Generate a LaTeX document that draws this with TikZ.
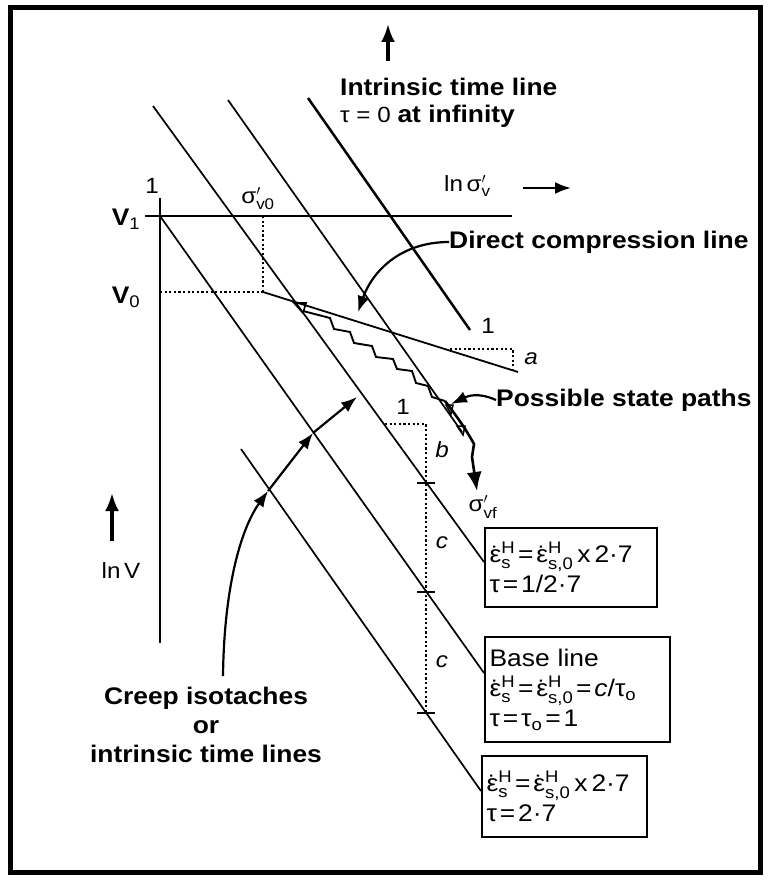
\documentclass[tikz,border=0pt]{standalone}
\usepackage{fontspec}
\usepackage{amsmath}
\setmainfont{Liberation Sans}[FakeStretch=1.1]
\usetikzlibrary{arrows.meta,calc}
\newcommand\edot{\ooalign{ε\cr\hidewidth\raisebox{-0.05em}{˙}\hidewidth\cr}}
\newcommand\hsub[1]{$^{\text{H}}_{\text{#1}}$}
\newcommand\eqs{\hspace{0.12em}=\hspace{0.12em}}
\begin{document}
\begin{tikzpicture}[x=1pt,y=-1pt,
  isoline/.style={line width=1.7pt},
  heavy/.style={line width=2.5pt},
  dotline/.style={line width=2.2pt, dash pattern=on 2.2pt off 2.4pt},
  tickmark/.style={line width=2.2pt},
  lab/.style={font=\fontsize{24}{29}\selectfont\bfseries, inner sep=0pt},
  txt/.style={font=\fontsize{22}{25}\selectfont, inner sep=0pt},
  itl/.style={font=\fontsize{22}{25}\selectfont\itshape, inner sep=0pt},
  box/.style={draw, line width=2.2pt, anchor=north west, align=left, inner xsep=4pt, inner ysep=2pt,
              font=\fontsize{24}{30}\selectfont},
  arr/.style={line width=2.2pt, -{Latex[length=16pt,width=12pt]}},
  bigarr/.style={line width=3.4pt, -{Latex[length=18pt,width=14pt]}}
]
\useasboundingbox (0,0) rectangle (770,880);
% frame
\draw[line width=5pt] (10.5,7.5) rectangle (760.5,872.5);

% top arrow and label
\coordinate (TA0) at (388,61);
\coordinate (TA1) at (388,24);
\draw[bigarr] (TA0) -- (TA1);
\node[lab, anchor=west] (ITL) at (340,87) {Intrinsic time line};
\node[anchor=west, inner sep=0pt] (TZ) at (340,116) {\fontsize{22}{25}\selectfont τ = 0 \fontsize{24}{25}\selectfont\bfseries at infinity};

% axes
\coordinate (Vtop) at (160,198);
\coordinate (Vbot) at (160,643);
\draw[line width=2.8pt] (Vtop) -- (Vbot);
\coordinate (H0) at (145,216);
\coordinate (H1) at (512,216);
\draw[line width=1.6pt] (H0) -- (H1);
\node[txt] (one0) at (152,186) {1};
\node[font=\fontsize{24}{25}\selectfont\bfseries, inner sep=0pt] (V1) at (126,219) {V$_{\text{\mdseries 1}}$};
\node[font=\fontsize{24}{25}\selectfont\bfseries, inner sep=0pt] (V0) at (126,297) {V$_{\text{\mdseries 0}}$};
\node[txt, anchor=west] (lns) at (444,186) {ln\,σ$'_{\text{v}}$};
\coordinate (SA0) at (523,188);
\coordinate (SA1) at (571,188);
\draw[arr] (SA0) -- (SA1);
\coordinate (LA0) at (112,541);
\coordinate (LA1) at (112,493);
\draw[bigarr] (LA0) -- (LA1);
\node[txt] (lnV) at (121,571) {ln\,V};

% start point, dotted guides
\coordinate (P0) at (263,292);
\coordinate (Vv0) at (160,292);
\coordinate (Hv0) at (263,216);
\draw[dotline] (Vv0) -- (P0);
\draw[dotline] (Hv0) -- (P0);
\node[txt] (s0) at (258,199) {σ$'_{\text{v0}}$};

% boxes
\node[box, minimum width=172pt, minimum height=79pt, text width=163pt] (B1) at (484,527)
  {\edot\hsub{s}\eqs\edot\hsub{s,0}\,x\,2·7\\τ\eqs 1/2·7};
\node[box, minimum width=185pt, minimum height=105pt, text width=176pt] (B2) at (484,636)
  {Base line\\\edot\hsub{s}\eqs\edot\hsub{s,0}\eqs\textit{c}/τ\textsubscript{o}\\τ\eqs τ\textsubscript{o}\eqs 1};
\node[box, minimum width=165pt, minimum height=81pt, text width=156pt] (B3) at (481,755)
  {\edot\hsub{s}\eqs\edot\hsub{s,0}\,x\,2·7\\τ\eqs 2·7};

% isotache lines
\coordinate (L1a) at (153,106);  \coordinate (E1) at (484,562);
\coordinate (L2a) at (228,100);  \coordinate (L2b) at (462,432);
\coordinate (L3a) at (308,98);   \coordinate (L3b) at (470,330);
\coordinate (E2) at (484,673);
\coordinate (L5a) at (241,449);  \coordinate (E3) at (481,791);
\draw[isoline] (L1a) -- (E1);
\draw[isoline] (L2a) -- (L2b);
\draw[heavy] (L3a) -- (L3b);
\draw[isoline] (H0 -| Vtop) -- (E2);
\draw[isoline] (L5a) -- (E3);

% direct compression line and a-triangle
\coordinate (C1) at (518,372);
\draw[line width=1.8pt] (P0) -- (C1);
\coordinate (Aa) at (450,349);
\coordinate (Ab) at (513,349);
\coordinate (Ac) at (513,370);
\draw[dotline] (Aa) -- (Ab) -- (Ac);
\node[txt] (oneA) at (488,326) {1};
\node[itl] (aa) at (531,359) {a};

% b and c guide
\coordinate (T1) at (426,483);
\coordinate (T2) at (426,592);
\coordinate (T3) at (426,713);
\coordinate (Db) at (426,424);
\coordinate (Dh) at (385,424);
\draw[dotline] (Dh) -- (Db) -- (T3);
\foreach \t in {T1,T2,T3} \draw[tickmark] ($(\t)+(-9,0)$) -- ($(\t)+(9,0)$);
\node[txt] (oneB) at (403,407) {1};
\node[itl] (bb) at (442,450) {b};
\node[itl] (c1) at (442,543) {c};
\node[itl] (c2) at (442,662) {c};

% state paths
\draw[line width=1.9pt, line join=miter]
  (303,311) -- (330,318) -- (334,329) -- (350,332) -- (354,343) -- (372,346) -- (376,357)
  -- (393,359) -- (397,369) -- (412,371) -- (416,383) -- (428,386) -- (432,397) -- (445,401);
\draw[line width=1.6pt] (294,303) -- (306,303) -- (303,313) -- cycle;
\coordinate (SPe) at (477,491);
\draw[line width=2.6pt, line join=round, -{Latex[length=19pt,width=15pt]}]
  (445,401) .. controls (455,414) and (463,425) .. (470,437) -- (474,444) -- (472,457) -- (SPe);
\draw[line width=1.5pt] (446,405) -- (453,405) -- (451,414) -- cycle;
\draw[line width=1.5pt] (457,426) -- (465,426) -- (463,435) -- cycle;
\node[txt] (svf) at (483,507) {σ$'_{\text{vf}}$};

% labels with arrows
\node[lab, anchor=west] (DCL) at (449,242) {Direct compression line};
\coordinate (DCt) at (358,312);
\draw[arr] (DCL.west) .. controls (400,242) and (372,272) .. (DCt);
\node[lab, anchor=west] (PSP) at (496,400) {Possible state paths};
\coordinate (PSt) at (451,404);
\draw[arr] (PSP.west) .. controls (478,392) and (468,396) .. (PSt);

% creep isotaches label
\node[lab, align=center] (CI) at (206,725) {Creep isotaches\\or\\intrinsic time lines};
\coordinate (CA0) at (223,676);
\coordinate (CA1) at (268,491);
\coordinate (CA2) at (313,433);
\coordinate (CA3) at (357,397);
\draw[arr] (CA0) .. controls (224,590) and (240,530) .. (CA1);
\draw[arr] (CA1) -- (CA2);
\draw[arr] (CA2) -- (CA3);
\end{tikzpicture}
\end{document}
